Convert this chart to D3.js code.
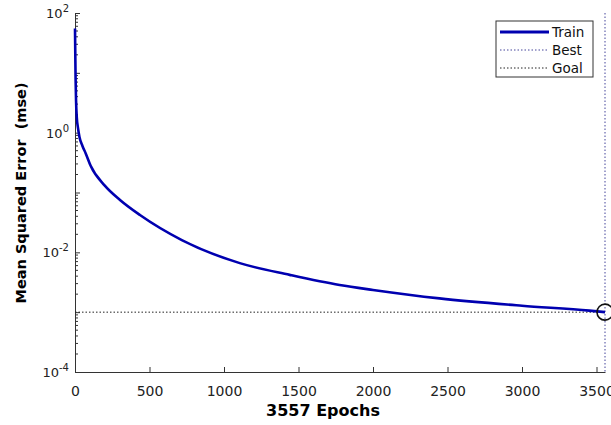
<!DOCTYPE html>
<html>
<head>
<meta charset="utf-8">
<script src="https://cdn.jsdelivr.net/npm/d3@7"></script>
<style>
  body { margin: 0; background: #fff; }
  text { font-family: "DejaVu Sans", sans-serif; }
</style>
</head>
<body>
<div id="chart"></div>
<script>
// training record
const epochs = [0, 2, 4, 7, 12, 20, 30, 50, 72, 105, 200, 302, 436, 717, 1106, 1441, 1776, 2000, 2446, 3000, 3452, 3557];
const mse = [55, 20, 8, 3.5, 1.8, 1.2, 0.85, 0.6, 0.45, 0.28, 0.13, 0.075, 0.042, 0.016, 0.0066, 0.0042, 0.00284, 0.00235, 0.0017, 0.00128, 0.00106, 0.00100];
const bestEpoch = 3557, bestPerf = 0.00100;
const goal = 0.001;
const xTicks = [0, 500, 1000, 1500, 2000, 2500, 3000, 3500];
const yTicks = [1e2, 1e0, 1e-2, 1e-4];
const yTickLabels = ["2", "0", "-2", "-4"];
const legendNames = ["Train", "Best", "Goal"];

let width = 611, height = 425;
let margin = {left: 75, right: 6, top: 13, bottom: 53};

let svg = d3.select("#chart")
    .append("svg")
    .attr("width", width)
    .attr("height", height);

let x = d3.scaleLinear()
    .domain([0, bestEpoch])
    .range([margin.left, width - margin.right]);

let y = d3.scaleLog()
    .domain([1e-4, 1e2])
    .range([height - margin.bottom, margin.top]);

// minor log ticks on the y axis
let minor = [];
for (let e = -4; e < 2; e++) {
    for (let k = 2; k <= 9; k++) minor.push(k * Math.pow(10, e));
}
svg.append("g")
    .selectAll("line")
    .data(minor)
    .enter().append("line")
    .attr("x1", margin.left).attr("x2", margin.left + 3)
    .attr("y1", d => y(d)).attr("y2", d => y(d))
    .attr("stroke", "#333");

// y axis
let yAxis = svg.append("g")
    .attr("transform", `translate(${margin.left},0)`)
    .call(d3.axisLeft(y).tickValues([1e2, 1e1, 1e0, 1e-1, 1e-2, 1e-3, 1e-4]).tickSizeInner(-5).tickSizeOuter(0).tickFormat(""));
yAxis.select(".domain").attr("stroke", "#333");
yAxis.selectAll(".tick line").attr("stroke", "#333");

// y tick labels as 10^n
let ylab = svg.append("g");
yTicks.forEach((v, i) => {
    let t = ylab.append("text")
        .attr("x", margin.left - 6)
        .attr("y", y(v) + 5)
        .attr("text-anchor", "end")
        .style("font-size", "13px")
        .attr("fill", "#222");
    t.append("tspan").text("10");
    t.append("tspan").attr("dy", -6).style("font-size", "10px").text(yTickLabels[i]);
});

// x axis
let xAxis = svg.append("g")
    .attr("transform", `translate(0,${height - margin.bottom})`)
    .call(d3.axisBottom(x).tickValues(xTicks).tickSizeInner(-5).tickSizeOuter(0).tickPadding(14).tickFormat(d3.format("d")));
xAxis.select(".domain").attr("stroke", "#333");
xAxis.selectAll(".tick line").attr("stroke", "#333");
xAxis.selectAll(".tick text")
    .style("font-size", "14px")
    .style("font-family", "DejaVu Sans, sans-serif")
    .attr("fill", "#222");

// axis labels
svg.append("text")
    .attr("x", 323)
    .attr("y", 416)
    .attr("text-anchor", "middle")
    .style("font-size", "16px")
    .style("font-weight", "bold")
    .text(bestEpoch + " Epochs");

svg.append("text")
    .attr("transform", `translate(26, 193) rotate(-90)`)
    .attr("text-anchor", "middle")
    .style("font-size", "14.5px")
    .style("font-weight", "bold")
    .style("white-space", "pre")
    .text("Mean Squared Error  (mse)");

// goal line
svg.append("line")
    .attr("x1", x(0)).attr("x2", x(bestEpoch))
    .attr("y1", y(goal)).attr("y2", y(goal))
    .attr("stroke", "#222")
    .attr("stroke-width", 1)
    .attr("stroke-dasharray", "1.5,2");

// best vertical line
svg.append("line")
    .attr("x1", x(bestEpoch)).attr("x2", x(bestEpoch))
    .attr("y1", y(1e2)).attr("y2", y(1e-4))
    .attr("stroke", "#44449a")
    .attr("stroke-width", 1)
    .attr("stroke-dasharray", "1.5,2");

// training curve
let line = d3.line()
    .x((d, i) => x(epochs[i]))
    .y(d => y(d))
    .curve(d3.curveMonotoneX);

svg.append("path")
    .datum(mse)
    .attr("fill", "none")
    .attr("stroke", "#0000b0")
    .attr("stroke-width", 2.6)
    .attr("d", line);

// best point circle
svg.append("circle")
    .attr("cx", x(bestEpoch))
    .attr("cy", y(bestPerf))
    .attr("r", 8)
    .attr("fill", "none")
    .attr("stroke", "#111")
    .attr("stroke-width", 1.6);

// legend
let legend = svg.append("g").attr("transform", "translate(496,21)");
legend.append("rect")
    .attr("width", 97).attr("height", 56)
    .attr("fill", "#fff")
    .attr("stroke", "#333");
let legendStyles = [
    {stroke: "#0000b0", width: 3, dash: null},
    {stroke: "#44449a", width: 1, dash: "1.5,2"},
    {stroke: "#222", width: 1, dash: "1.5,2"}
];
legendNames.forEach((name, i) => {
    let yy = 11 + i * 18;
    legend.append("line")
        .attr("x1", 4).attr("x2", 53)
        .attr("y1", yy).attr("y2", yy)
        .attr("stroke", legendStyles[i].stroke)
        .attr("stroke-width", legendStyles[i].width)
        .attr("stroke-dasharray", legendStyles[i].dash);
    legend.append("text")
        .attr("x", 56)
        .attr("y", yy + 5)
        .style("font-size", "13.5px")
        .attr("fill", "#111")
        .text(name);
});
</script>
</body>
</html>
